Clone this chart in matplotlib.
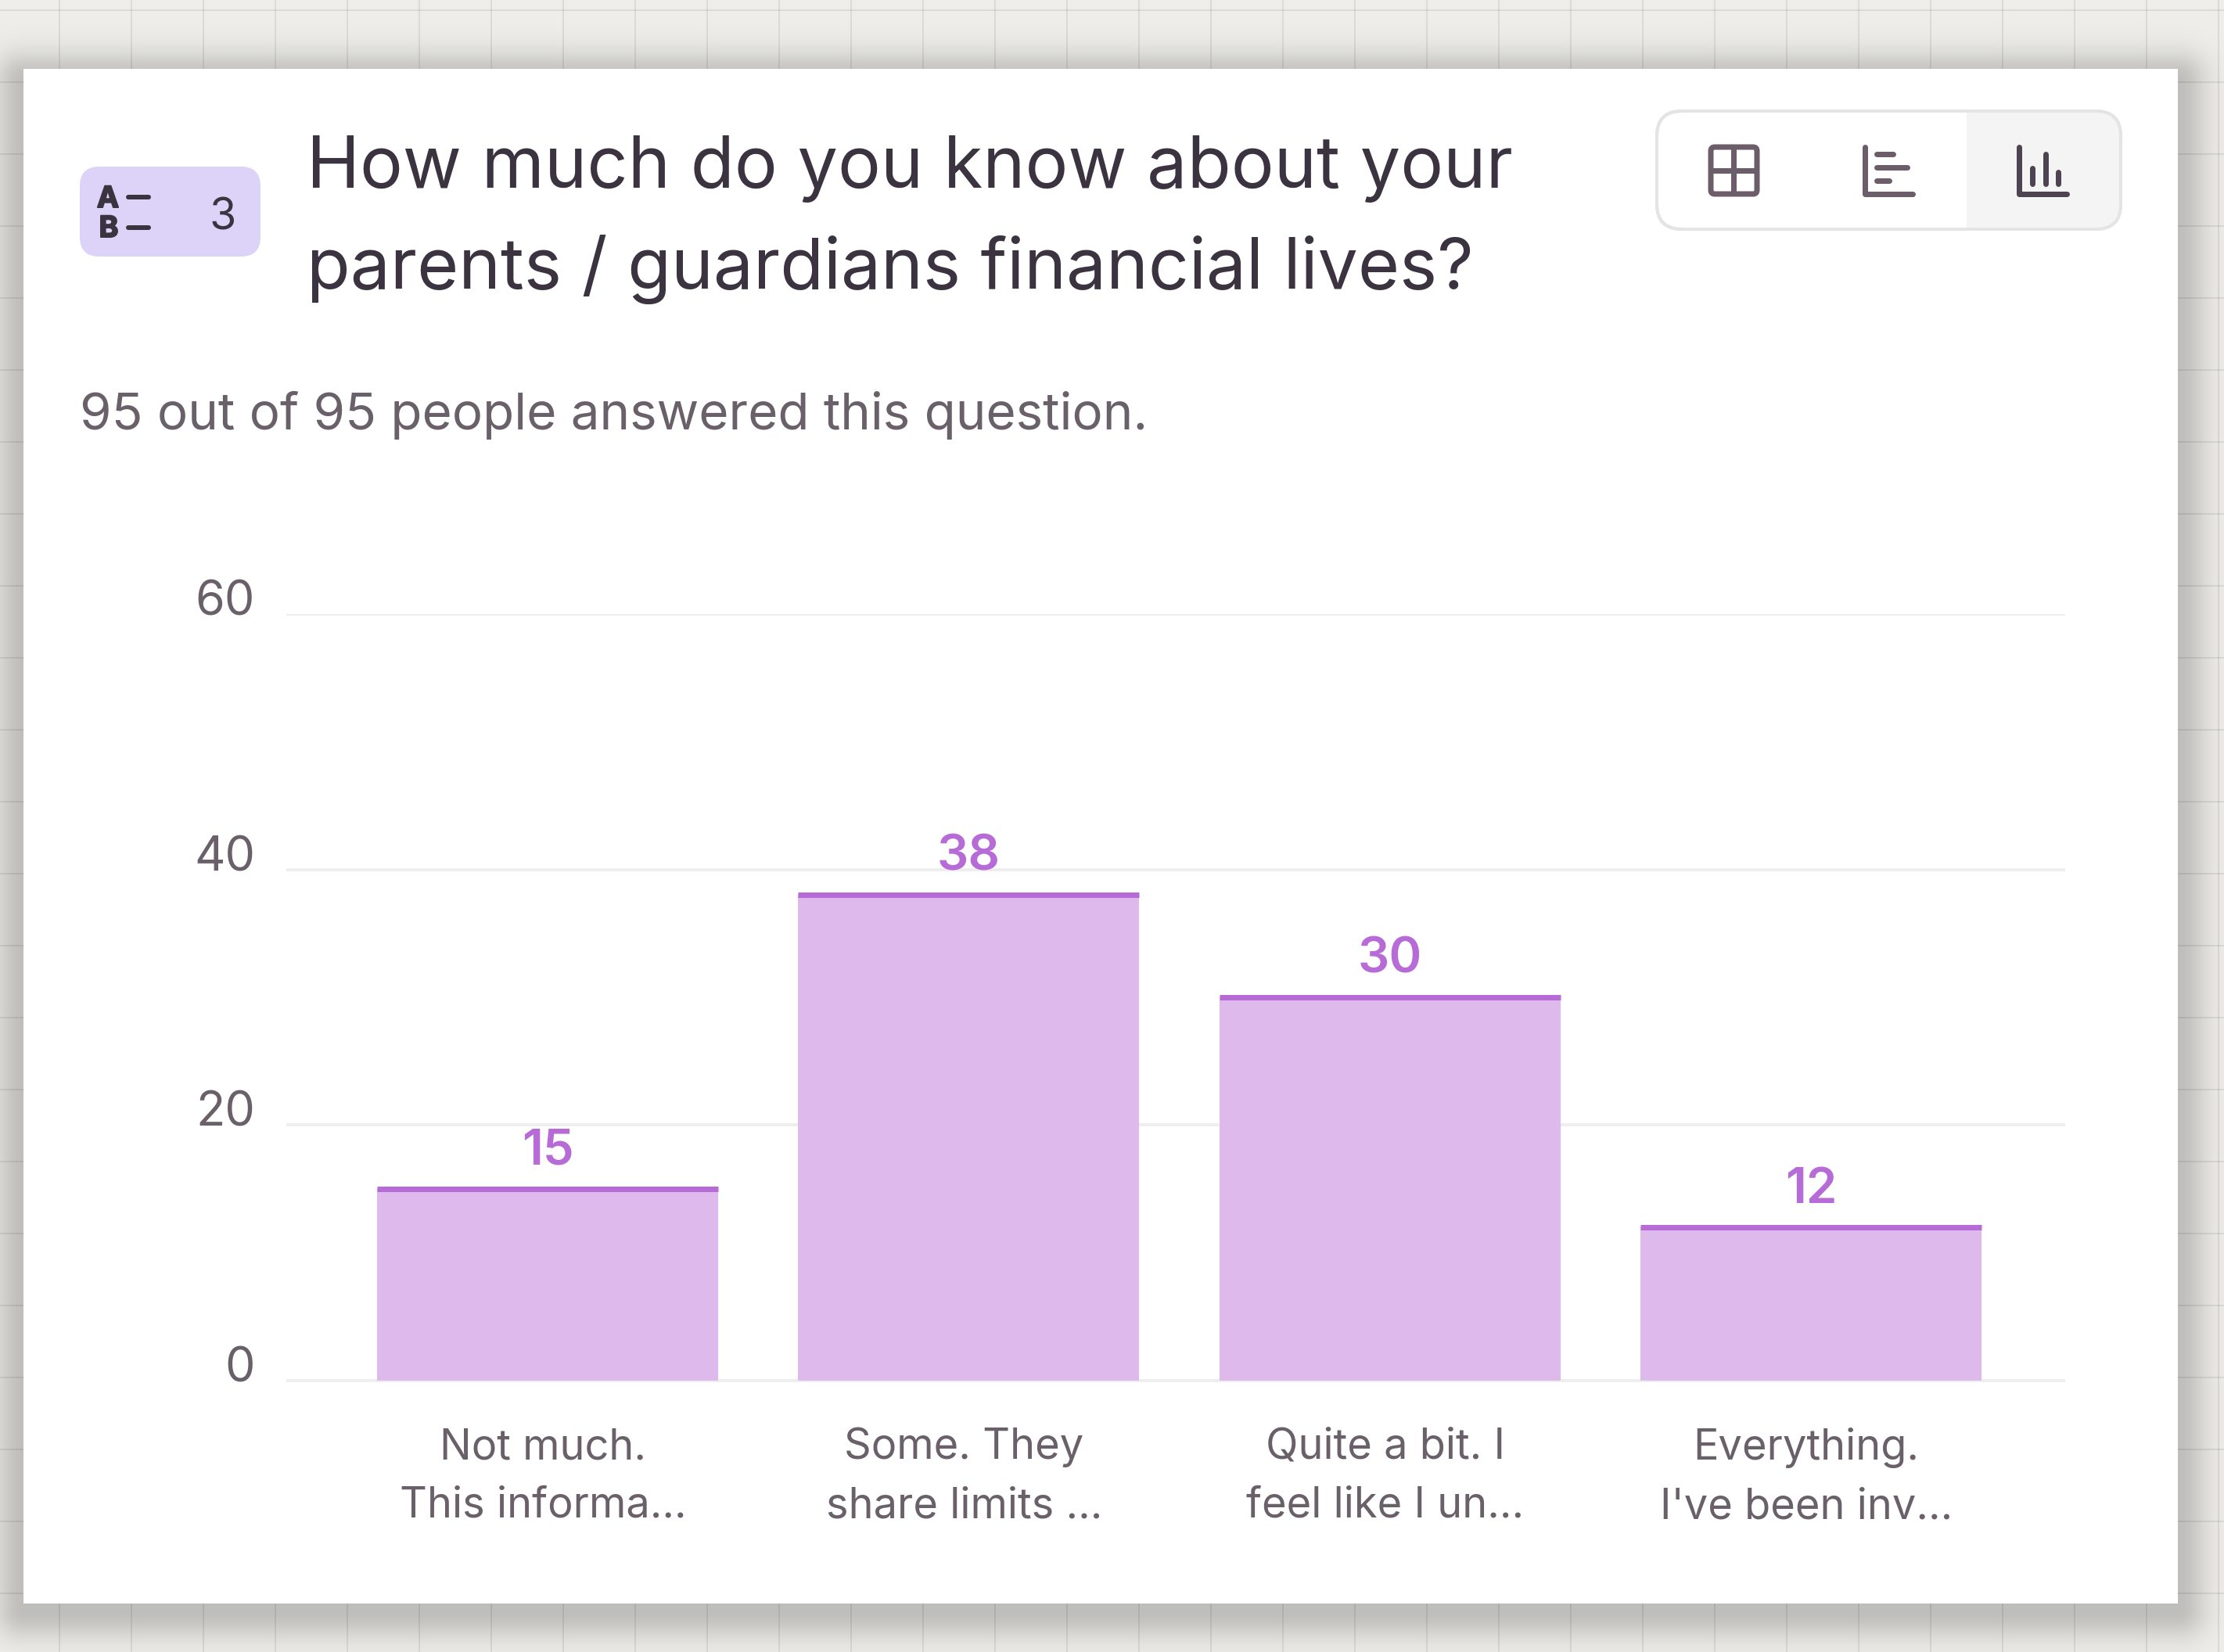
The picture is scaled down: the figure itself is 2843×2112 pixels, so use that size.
import numpy as np
import matplotlib
matplotlib.use("Agg")
import matplotlib.pyplot as plt
import matplotlib.patheffects as pe
from matplotlib.patches import FancyBboxPatch, Rectangle
from matplotlib.transforms import ScaledTranslation

plt.rcParams['font.family'] = ['Inter', 'DejaVu Sans']

# chart data
categories = ["Not much.\nThis informa...", "Some. They\nshare limits ...",
              "Quite a bit. I\nfeel like I un...", "Everything.\nI've been inv..."]
counts = [15, 38, 30, 12]
y_ticks = [0, 20, 40, 60]

title_lines = ["How much do you know about your", "parents / guardians financial lives?"]
subtitle = "95 out of 95 people answered this question."

W, H = 2843, 2112
DPI = 100
px = 72 / DPI  # one image pixel in points

PURPLE = '#B76BD6'
BAR = '#DDB9EC'
GRID = '#EEEEEE'
DARK = '#3B3340'
GREY = '#6A6069'
ICON = '#6B5D69'
ICON_ON = '#4E4350'

fig = plt.figure(figsize=(W / DPI, H / DPI), dpi=DPI)

# paper background with squares and the card shadow
card = (30, 88, 2784, 2050)
bg = np.ones((H, W, 3)) * np.array([0.935, 0.932, 0.918])
for gx in np.arange(76, W, 92):
    bg[:, int(gx) - 1:int(gx) + 1] *= 0.92
for gy in np.arange(13, H, 92):
    bg[int(gy) - 1:int(gy) + 1, :] *= 0.92
yy, xx = np.mgrid[0:H, 0:W]
dx = np.maximum(np.maximum(card[0] - xx, xx - card[2]), 0)
dy = np.maximum(np.maximum(card[1] + 14 - yy, yy - card[3] - 8), 0)
dist = np.hypot(dx, dy)
shade = 1 - 0.2 * np.exp(-(dist / 36.0) ** 2)
bg = bg * shade[..., None]

back = fig.add_axes([0, 0, 1, 1], zorder=0)
back.imshow(bg, extent=(0, W, H, 0), aspect='auto', interpolation='nearest')
back.add_patch(Rectangle((card[0], card[1]), card[2] - card[0], card[3] - card[1], fc='white', ec='none'))
back.set_xlim(0, W)
back.set_ylim(H, 0)
back.axis('off')

# bar chart
ax_left, ax_right, ax_top, ax_bottom = 366, 2640, 785, 1765
ax = fig.add_axes([ax_left / W, 1 - ax_bottom / H, (ax_right - ax_left) / W, (ax_bottom - ax_top) / H], zorder=2)
ax.patch.set_alpha(0)
x = np.arange(len(categories))
step = 538
bar_w = 436 / step
ax.set_xlim(-334 / step, 3 + 325 / step)
ax.set_ylim(0, 60)
ax.set_axisbelow(True)
ax.bar(x, counts, width=bar_w, color=BAR, linewidth=0, zorder=2)
ax.hlines(counts, x - bar_w / 2, x + bar_w / 2, color=PURPLE, linewidth=7 * px, zorder=3, capstyle='butt')
for xi, v in zip(x, counts):
    ax.annotate(str(v), (xi, v), xytext=(0, 48 * px), textcoords='offset points', ha='center', va='center',
                fontsize=47 * px * 1.35, color=PURPLE, fontweight='semibold')

ax.set_yticks(y_ticks)
ax.set_xticks(x)
ax.set_xticklabels(categories, fontsize=39, color=GREY, linespacing=1.6)
ax.grid(axis='y', color=GRID, linewidth=4 * px)
ax.tick_params(axis='both', length=0)
ax.tick_params(axis='y', labelsize=44, labelcolor=GREY, pad=40 * px)
ax.tick_params(axis='x', pad=60 * px)
for lab in ax.get_yticklabels():
    lab.set_transform(lab.get_transform() + ScaledTranslation(0, 21 / DPI, fig.dpi_scale_trans))
for lab in ax.get_xticklabels():
    lab.set_transform(lab.get_transform() + ScaledTranslation(-6 / DPI, 0, fig.dpi_scale_trans))
for side in ['top', 'left', 'right', 'bottom']:
    ax.spines[side].set_visible(False)
ax.hlines(0, *ax.get_xlim(), color=GRID, linewidth=4 * px, zorder=1, clip_on=False)

# header texts and icons in image pixels
top = fig.add_axes([0, 0, 1, 1], zorder=3)
top.set_xlim(0, W)
top.set_ylim(H, 0)
top.axis('off')

top.text(392, 240, title_lines[0], fontsize=66, color=DARK, va='baseline')
top.text(392, 369, title_lines[1], fontsize=65.6, color=DARK, va='baseline')
top.text(102, 549, subtitle, fontsize=47.2, color=GREY, va='baseline')

# question type badge
top.add_patch(FancyBboxPatch((102 + 25, 213 + 25), 231 - 50, 115 - 50, boxstyle='round,pad=25,rounding_size=25',
                             fc='#DDD2F8', ec='none'))
top.text(285, 293, '3', fontsize=40, color=DARK, ha='center', va='baseline')
bold = [pe.withStroke(linewidth=2 * px, foreground=DARK)]
top.text(138, 265, 'A', fontsize=27, color=DARK, ha='center', va='baseline', fontweight='bold', path_effects=bold)
top.text(139, 303, 'B', fontsize=27, color=DARK, ha='center', va='baseline', fontweight='bold', path_effects=bold)
top.plot([164, 190], [252, 252], color=DARK, lw=6 * px, solid_capstyle='round')
top.plot([164, 190], [291, 291], color=DARK, lw=6 * px, solid_capstyle='round')

# view switcher
pill = FancyBboxPatch((2118 + 32, 142 + 32), 593 - 64, 151 - 64, boxstyle='round,pad=32,rounding_size=32',
                      fc='white', ec='#E4E4E4', lw=4 * px, zorder=1)
top.add_patch(pill)
on = Rectangle((2514, 142), 197, 151, fc='#F4F4F4', ec='none', zorder=1.1)
top.add_patch(on)
on.set_clip_path(pill)
outline = FancyBboxPatch((2118 + 32, 142 + 32), 593 - 64, 151 - 64, boxstyle='round,pad=32,rounding_size=32',
                         fc='none', ec='#E4E4E4', lw=4 * px, zorder=1.2)
top.add_patch(outline)

lw = 7 * px
top.add_patch(FancyBboxPatch((2190, 191), 53, 54, boxstyle='round,pad=3,rounding_size=5', fc='none', ec=ICON, lw=lw, zorder=2))
top.plot([2216, 2216], [188, 248], color=ICON, lw=lw, solid_capstyle='butt', zorder=2)
top.plot([2187, 2246], [218, 218], color=ICON, lw=lw, solid_capstyle='butt', zorder=2)

top.plot([2384, 2384, 2445], [188, 248, 248], color=ICON, lw=lw, solid_capstyle='round', solid_joinstyle='round', zorder=2)
for yb, xe in zip([197, 214, 231], [2420, 2438, 2415]):
    top.plot([2399, xe], [yb, yb], color=ICON, lw=lw, solid_capstyle='round', zorder=2)

top.plot([2581, 2581, 2642], [188, 248, 248], color=ICON_ON, lw=lw, solid_capstyle='round', solid_joinstyle='round', zorder=2)
for xb, ye in zip([2598, 2615, 2631], [215, 197, 220]):
    top.plot([xb, xb], [ye, 235], color=ICON_ON, lw=lw, solid_capstyle='round', zorder=2)

fig.savefig('out.png', dpi=DPI)
